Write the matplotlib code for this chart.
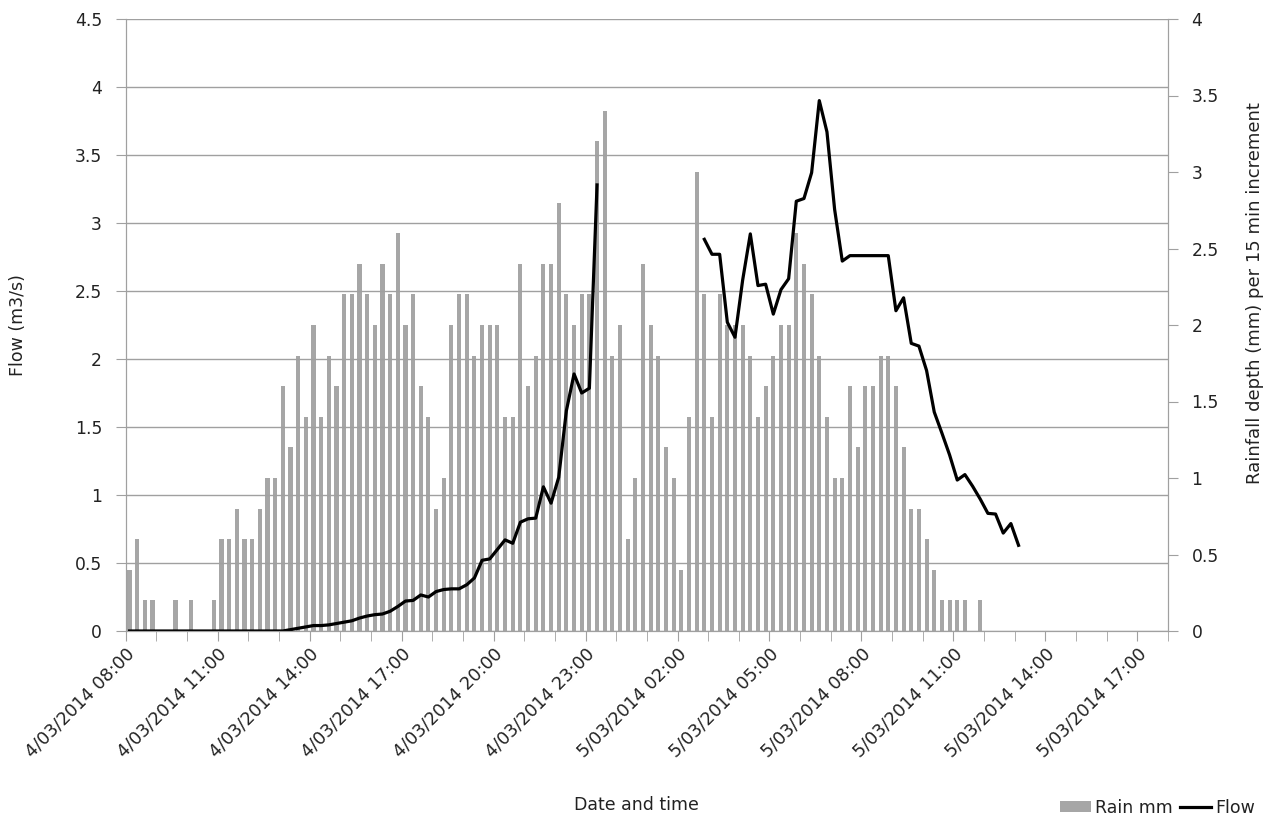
import numpy as np
import matplotlib
matplotlib.use("Agg")
import matplotlib.pyplot as plt
from matplotlib.lines import Line2D
from matplotlib.patches import Patch
from matplotlib.transforms import ScaledTranslation

# 15 minute slots on the category axis, 4/03/2014 08:00 -> 5/03/2014 18:00
N_SLOTS = 136
SLOT_HOURS = 0.25

# rainfall depth (mm) per 15 min slot, from 4/03/2014 08:00
RAIN_MM = [
    0.4, 0.6, 0.2, 0.2, 0, 0, 0.2, 0, 0.2, 0, 0, 0.2,
    0.6, 0.6, 0.8, 0.6, 0.6, 0.8, 1.0, 1.0, 1.6, 1.2, 1.8, 1.4,
    2.0, 1.4, 1.8, 1.6, 2.2, 2.2, 2.4, 2.2, 2.0, 2.4, 2.2, 2.6,
    2.0, 2.2, 1.6, 1.4, 0.8, 1.0, 2.0, 2.2, 2.2, 1.8, 2.0, 2.0,
    2.0, 1.4, 1.4, 2.4, 1.6, 1.8, 2.4, 2.4, 2.8, 2.2, 2.0, 2.2,
    2.2, 3.2, 3.4, 1.8, 2.0, 0.6, 1.0, 2.4, 2.0, 1.8, 1.2, 1.0,
    0.4, 1.4, 3.0, 2.2, 1.4, 2.2, 2.0, 2.0, 2.0, 1.8, 1.4, 1.6,
    1.8, 2.0, 2.0, 2.6, 2.4, 2.2, 1.8, 1.4, 1.0, 1.0, 1.6, 1.2,
    1.6, 1.6, 1.8, 1.8, 1.6, 1.2, 0.8, 0.8, 0.6, 0.4, 0.2, 0.2,
    0.2, 0.2, 0, 0.2,
]

# flow (m3/s) per 15 min slot, None where the logger has no reading
FLOW = [
    0, 0, 0, 0, 0, 0, 0, 0, 0, 0, 0, 0,
    0, 0, 0, 0, 0, 0, 0, 0, 0.0, 0.01, 0.02, 0.03,
    0.04, 0.04, 0.045, 0.055, 0.065, 0.075, 0.095, 0.11, 0.12, 0.125, 0.145, 0.18,
    0.22, 0.225, 0.265, 0.25, 0.29, 0.305, 0.31, 0.31, 0.34, 0.39, 0.52, 0.53,
    0.6, 0.67, 0.645, 0.8, 0.825, 0.83, 1.06, 0.94, 1.13, 1.62, 1.89, 1.75,
    1.785, 3.28, None, None, None, None, None, None, None, None, None, None,
    None, None, None, 2.88, 2.77, 2.77, 2.27, 2.16, 2.58, 2.92, 2.54, 2.55,
    2.33, 2.51, 2.59, 3.16, 3.18, 3.37, 3.9, 3.67, 3.1, 2.72, 2.76, 2.76,
    2.76, 2.76, 2.76, 2.76, 2.355, 2.45, 2.115, 2.095, 1.915, 1.61, 1.455, 1.295,
    1.11, 1.15, 1.065, 0.97, 0.865, 0.86, 0.72, 0.79, 0.63,
]

TICK_LABELS = [
    "4/03/2014 08:00", "4/03/2014 11:00", "4/03/2014 14:00", "4/03/2014 17:00",
    "4/03/2014 20:00", "4/03/2014 23:00", "5/03/2014 02:00", "5/03/2014 05:00",
    "5/03/2014 08:00", "5/03/2014 11:00", "5/03/2014 14:00", "5/03/2014 17:00",
]

BAR_COLOR = "#a6a6a6"
AXIS_COLOR = "#a0a0a0"
TEXT_COLOR = "#222222"
FS = 12

plt.rcParams["font.family"] = ["DejaVu Sans"]
plt.rcParams["font.size"] = FS

W, H = 1271, 819
fig = plt.figure(figsize=(W / 100, H / 100), dpi=100)
left, right, top, bottom = 125.7, 1168, 19, 631
ax = fig.add_axes([left / W, 1 - bottom / H, (right - left) / W, (bottom - top) / H])
ax2 = ax.twinx()
ax.set_zorder(ax2.get_zorder() + 1)
ax.patch.set_visible(False)

rain_x = (np.arange(len(RAIN_MM)) + 0.5) * SLOT_HOURS
flow_x = (np.arange(len(FLOW)) + 0.5) * SLOT_HOURS
flow_y = np.array([np.nan if v is None else v for v in FLOW], dtype=float)

ax2.bar(rain_x, RAIN_MM, width=0.135, color=BAR_COLOR, linewidth=0)
ax.plot(flow_x, flow_y, color="black", lw=2.3, solid_joinstyle="round")

n_hours = N_SLOTS * SLOT_HOURS
ax.set_xlim(0, n_hours)
ax.set_ylim(0, 4.5)
ax2.set_ylim(0, 4)
ax.set_yticks(np.arange(0, 4.51, 0.5))
ax2.set_yticks(np.arange(0, 4.01, 0.5))
ax.set_yticklabels([f"{v:g}" for v in np.arange(0, 4.51, 0.5)])
ax2.set_yticklabels([f"{v:g}" for v in np.arange(0, 4.01, 0.5)])

ax.set_xticks(np.arange(0, len(TICK_LABELS) * 3, 3))
ax.set_xticks(np.arange(0, n_hours + 0.1, 1), minor=True)
ax.set_xticklabels(TICK_LABELS, rotation=45, ha="right", va="top",
                   rotation_mode="anchor", fontsize=12.7)
offset = ScaledTranslation(4 / 100, 0, fig.dpi_scale_trans)
for lab in ax.get_xticklabels():
    lab.set_transform(lab.get_transform() + offset)

ax.yaxis.grid(True, color=AXIS_COLOR, lw=1)
ax.set_axisbelow(True)

for a in (ax, ax2):
    for s in a.spines.values():
        s.set_color(AXIS_COLOR)
    a.spines["top"].set_visible(False)
    a.tick_params(which="both", color=AXIS_COLOR, length=7, labelcolor=TEXT_COLOR)
    a.tick_params(axis="y", labelsize=12.3, pad=10)
ax.tick_params(axis="x", which="major", pad=3)

fig.text(18 / W, 1 - 325 / H, "Flow (m3/s)", rotation=90, ha="center", va="center",
         color=TEXT_COLOR, fontsize=12.5)
fig.text(1255 / W, 1 - 293 / H, "Rainfall depth (mm) per 15 min increment",
         rotation=90, ha="center", va="center", color=TEXT_COLOR, fontsize=13)
fig.text(636 / W, 1 - 805 / H, "Date and time", ha="center", va="center",
         color=TEXT_COLOR, fontsize=12.5)

handles = [Patch(facecolor=BAR_COLOR, edgecolor="none", label="Rain mm"),
           Line2D([], [], color="black", lw=2.3, label="Flow")]
fig.legend(handles=handles, loc="center right", bbox_to_anchor=(1264 / W, 1 - 808 / H),
           ncol=2, frameon=False, fontsize=12.5, handlelength=1.8, handleheight=0.6,
           handletextpad=0.25, columnspacing=0.4, borderpad=0, labelcolor=TEXT_COLOR)

fig.savefig("out.png", dpi=100)
